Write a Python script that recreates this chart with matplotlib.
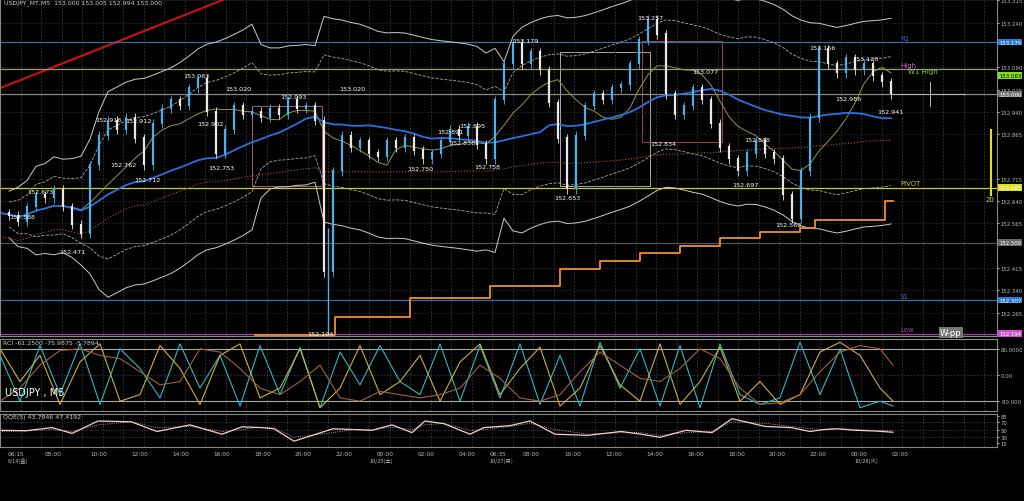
import numpy as np
import pandas as pd
import matplotlib
matplotlib.use("Agg")
import matplotlib.pyplot as plt
from matplotlib.patches import Rectangle

# ---------------- data ----------------
closes = [152.60,152.59,152.57,152.62,152.66,152.65,152.68,152.62,152.56,152.53,
          152.76,152.86,152.91,152.88,152.92,152.85,152.76,152.90,152.95,152.98,
          152.96,153.02,153.05,152.94,152.80,152.88,152.96,152.93,152.94,152.92,
          152.95,152.93,152.98,152.95,152.96,152.91,152.40,152.74,152.86,152.82,
          152.84,152.80,152.79,152.84,152.82,152.85,152.81,152.78,152.80,152.84,
          152.88,152.86,152.89,152.83,152.78,152.98,153.10,153.17,153.10,153.14,
          153.08,152.97,152.85,152.68,152.86,152.96,153.00,152.98,153.02,153.03,
          153.10,153.18,153.25,153.20,153.00,152.93,152.96,153.02,152.98,152.90,
          152.82,152.78,152.74,152.80,152.84,152.80,152.78,152.66,152.58,152.74,
          152.92,153.15,153.10,153.07,153.12,153.08,153.10,153.06,153.04,153.00]
bar_step = 9  # pixels per bar

peak_labels = [(22,152.588,"152.588"),(40,152.673,"152.673"),(72,152.471,"152.471"),
               (108,152.916,"152.916"),(138,152.912,"152.912"),(123,152.762,"152.762"),
               (147,152.712,"152.712"),(196,153.063,"153.063"),(238,153.020,"153.020"),
               (210,152.902,"152.902"),(221,152.753,"152.753"),(293,152.993,"152.993"),
               (352,153.020,"153.020"),(320,152.194,"152.194"),(420,152.750,"152.750"),
               (462,152.836,"152.836"),(472,152.895,"152.895"),(450,152.875,"152.891"),
               (487,152.758,"152.758"),(525,153.179,"153.179"),(567,152.653,"152.653"),
               (650,153.257,"153.257"),(705,153.077,"153.077"),(663,152.834,"152.834"),
               (757,152.848,"152.848"),(745,152.697,"152.697"),(788,152.562,"152.562"),
               (822,153.156,"153.156"),(865,153.120,"153.120"),(848,152.986,"152.986"),
               (890,152.941,"152.941")]

stair_x = [255,335,410,490,560,600,640,680,720,760,800,815,885,893]
stair_p = [152.190,152.250,152.315,152.355,152.410,152.440,152.465,152.490,152.515,152.535,152.550,152.575,152.640,152.640]

levels = [("R1",153.175,"#3a6ea5","#2a7ad6"),("High",153.083,"#9a9a7a",None),
          ("",153.000,"#888888","#777777"),("PIVOT",152.685,"#c8c832","#e0e020"),
          ("",152.500,"#555555","#666666"),("S1",152.307,"#3a6ea5","#2a7ad6"),
          ("Low",152.194,"#a040a0","#d050d0")]

price_ticks = [153.315,153.240,153.090,153.015,152.940,152.865,152.715,152.640,152.565,152.415,152.340,152.265]

time_px = [8,45,90,131,172,213,254,295,336,377,418,459,490,523,564,605,646,687,728,769,810,851,892]
time_lbl = ["06:15","08:00","10:00","12:00","14:00","16:00","18:00","20:00","22:00","00:00","02:00",
            "04:00","06:35","08:00","10:00","12:00","14:00","16:00","18:00","20:00","22:00","00:00","02:00"]
date_px = [8,370,490,855]
date_lbl = ["6/14(金)","10/25(土)","10/27(月)","10/28(火)"]

rci_x = [0,20,40,60,80,100,120,140,160,180,200,220,240,260,280,300,320,340,360,380,400,420,440,460,480,
         500,520,540,560,580,600,620,640,660,680,700,720,740,760,780,800,820,840,860,880,893]
rci_fast = [60,-80,90,-60,95,-90,80,20,-70,95,-40,60,-95,90,-60,85,-100,70,-30,90,-20,-60,95,-80,90,
            -70,95,-90,60,-95,100,-40,80,-95,90,-100,95,-60,-90,-70,100,-60,80,-100,-80,-95]
rci_mid = [80,-20,60,-90,40,95,-80,-60,90,20,-90,60,95,-70,-40,80,-100,-40,90,-60,-20,60,-80,40,95,
           -60,20,85,-95,-40,90,-30,-80,95,-90,-20,85,-80,-20,-90,-60,70,100,60,-40,-80]
rci_slow = [-80,-40,30,75,80,60,50,10,-30,-20,80,70,20,-40,-60,-20,30,-70,-80,-50,-60,-70,-60,-40,30,
            -10,-70,-80,-60,10,70,30,-10,-20,20,80,50,-40,-90,-85,-60,10,70,90,80,30]

qqe_x = [0,26,52,72,98,131,157,190,222,242,261,274,294,333,353,372,392,412,425,444,470,484,510,530,
         555,588,621,641,660,686,712,732,765,791,810,824,837,856,876,893]
qqe_fast = [48,47,55,40,72,70,45,62,38,57,55,52,20,52,50,48,62,42,72,65,38,55,60,72,38,35,45,38,30,
            48,42,78,58,55,45,50,52,48,46,43]
qqe_slow = [45,46,50,45,62,70,55,58,45,50,56,54,30,42,50,49,56,50,62,66,48,50,58,66,50,38,42,42,35,
            42,45,70,66,58,52,50,52,50,48,47]

# ---------------- figure ----------------
W, H = 1024, 502
fig = plt.figure(figsize=(W/100, H/100), dpi=100, facecolor="black")
PW = 997

def ax_px(top, bottom):
    return fig.add_axes([0, 1-bottom/H, PW/W, (bottom-top)/H], facecolor="black")

ax = ax_px(0, 337)
ax2 = ax_px(340, 412)
ax3 = ax_px(415, 448)

xs = np.arange(len(closes))*bar_step
s = pd.Series(closes)
ma_slow = s.rolling(25, min_periods=1).mean()
ma_fast = s.rolling(8, min_periods=1).mean()
ma_long = s.rolling(80, min_periods=1).mean() - 0.08
bb_m = s.rolling(20, min_periods=2).mean()
bb_s = s.rolling(20, min_periods=2).std().bfill().clip(upper=0.11)

for a in (ax, ax2, ax3):
    a.set_xlim(0, PW)
    for v in np.arange(0, PW, 20.5):
        a.axvline(v, color="#3a3a3a", lw=0.6, ls=(0, (2, 2)))
    for sp in a.spines.values():
        sp.set_color("#888888")
    a.tick_params(left=False, labelleft=False, bottom=False, labelbottom=False,
                  right=True, labelright=True, colors="#bbbbbb", labelsize=3.9, length=1.5, pad=1)

ylo, yhi = 152.186, 153.32
ax.set_ylim(ylo, yhi)
ax.set_yticks(price_ticks)
ax.set_yticklabels([f"{t:.3f}" for t in price_ticks])
for t in price_ticks:
    ax.axhline(t, color="#333333", lw=0.5, ls=(0, (2, 2)))

ax.plot([0, 225], [153.02, 153.32], color="#d01010", lw=1.5)

for name, p, c, tagc in levels:
    ax.axhline(p, color=c, lw=0.9)
    if name:
        ax.text(900, p+0.008, name, color=c if name != "High" else "#c070c0", fontsize=5)
    if tagc:
        ax.text(1.002, p, f"{p:.3f}", transform=ax.get_yaxis_transform(), fontsize=3.9,
                color="white", va="center", bbox=dict(fc=tagc, ec="none", pad=0.6), clip_on=False)
ax.text(1.002, 153.063, "153.063", transform=ax.get_yaxis_transform(), fontsize=3.9, color="black",
        va="center", bbox=dict(fc="#80e020", ec="none", pad=0.6), clip_on=False)
ax.text(908, 153.07, "W1 High", color="#80d040", fontsize=5)
ax.text(940, 152.19, "W-pp", color="white", fontsize=6,
        bbox=dict(fc="#777777", ec="none", pad=0.8))
ax.plot([892, 965], [153.0, 153.0], color="#bbbbbb", lw=0.7)
ax.plot([930, 930], [152.96, 153.04], color="#bbbbbb", lw=0.7)

ax.add_patch(Rectangle((252, 152.69), 70, 0.27, fill=False, ec="#a06070", lw=0.7))
ax.add_patch(Rectangle((560, 152.69), 90, 0.45, fill=False, ec="#aaaaaa", lw=0.7))
ax.add_patch(Rectangle((642, 152.84), 80, 0.34, fill=False, ec="#a04050", lw=0.7))

ax.plot(xs, bb_m+2.6*bb_s+0.06, color="#cccccc", lw=0.7)
ax.plot(xs, bb_m-2.6*bb_s-0.06, color="#cccccc", lw=0.7)
ax.plot(xs, bb_m+1.7*bb_s+0.03, color="#aaaaaa", lw=0.6, ls="--")
ax.plot(xs, bb_m-1.7*bb_s-0.03, color="#aaaaaa", lw=0.6, ls="--")
ax.plot(xs, ma_long, color="#a06030", lw=0.8, ls=":")
ax.plot(xs, ma_fast, color="#8a9a40", lw=0.7)
ax.plot(xs, ma_slow, color="#2a70e0", lw=1.3)

opens = [closes[0]] + closes[:-1]
for x, o, c in zip(xs, opens, closes):
    col = "#4fb0e8" if c >= o else "#e8e8e8"
    ax.vlines(x, min(o, c), max(o, c)+0.004, color=col, lw=1.6)
    ax.vlines(x, min(o, c)-0.015, max(o, c)+0.015, color=col, lw=0.6)
ax.vlines(328, 152.194, 152.55, color="#4fb0e8", lw=1)

ax.step(stair_x, stair_p, where="post", color="#f09030", lw=1.3)

for x, p, t in peak_labels:
    ax.text(x, p, t, color="white", fontsize=4.6, ha="center", va="center")

ax.text(4, 153.305, "USDJPY_MT,M5  153.000 153.005 152.994 153.000", color="#cccccc", fontsize=4.5)
ax.plot([991, 991], [152.88, 152.66], color="#e0e020", lw=1.5, clip_on=False)
ax.text(986, 152.64, "20", color="#e0e020", fontsize=5)

ax2.set_ylim(-110, 110)
ax2.set_yticks([80, 0, -80])
ax2.set_yticklabels(["80.0000", "0.00", "-80.000"])
ax2.axhline(80, color="#aaaaaa", lw=0.8)
ax2.axhline(-80, color="#aaaaaa", lw=0.8)
ax2.axhline(0, color="#335", lw=0.6, ls=(0, (2, 2)))
ax2.plot(rci_x, rci_fast, color="#30b8c0", lw=0.8)
ax2.plot(rci_x, rci_mid, color="#c8b040", lw=0.8)
ax2.plot(rci_x, rci_slow, color="#a06040", lw=0.8)
ax2.text(3, 95, "RCI -61.2500 -75.9875 -5.7894", color="#cccccc", fontsize=4.5)
ax2.text(5, -62, "USDJPY , M5", color="white", fontsize=7)

ax3.set_ylim(5, 90)
ax3.set_yticks([85, 70, 50, 30, 15])
for t in (70, 50, 30):
    ax3.axhline(t, color="#444466", lw=0.5, ls=(0, (2, 2)))
ax3.plot(qqe_x, qqe_slow, color="#cccccc", lw=0.6, ls=":")
ax3.plot(qqe_x, qqe_fast, color="#f0d0c8", lw=0.9)
ax3.text(3, 80, "QQE(5) 43.7846 47.4192", color="#cccccc", fontsize=4.5)

for x, l in zip(time_px, time_lbl):
    fig.text(x/W, 1-456/H, l, color="#bbbbbb", fontsize=4.2, ha="left")
for x, l in zip(date_px, date_lbl):
    fig.text(x/W, 1-463/H, l, color="#bbbbbb", fontsize=4, ha="left", family=["Noto Sans CJK JP", "DejaVu Sans"])

fig.savefig("out.png", dpi=100, facecolor="black")
